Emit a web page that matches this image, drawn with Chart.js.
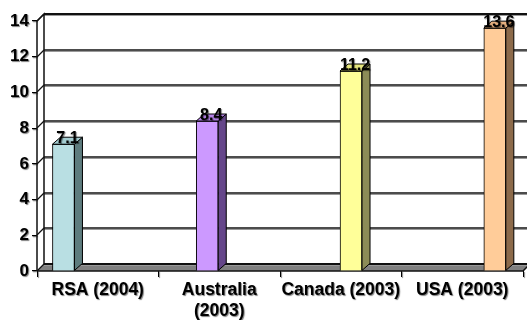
<!DOCTYPE html>
<html>
<head>
<meta charset="utf-8">
<script src="https://cdn.jsdelivr.net/npm/chart.js@4/dist/chart.umd.min.js"></script>
<style>
  html, body { margin: 0; padding: 0; background: #fff; }
</style>
</head>
<body>
<canvas id="grafico" width="527" height="320"></canvas>
<script>
// dados do gráfico
const categorias = ['RSA (2004)', ['Australia', '(2003)'], 'Canada (2003)', 'USA (2003)'];
const valores = [7.1, 8.4, 11.2, 13.6];
const ticksY = [0, 2, 4, 6, 8, 10, 12, 14];

const coresFrente = ['#b9dfe3', '#cc99ff', '#ffff99', '#ffcc99'];
const coresTopo = ['#a4cdd1', '#b683e8', '#e6e67f', '#e6b07f'];
const coresLado = ['#5e7c7e', '#65468a', '#8c8c57', '#8c6a4a'];

const FONTE = '"Liberation Sans", Arial, sans-serif';
// profundidade das paredes e das barras
const PX = 7, PY = -7;
const BX = 8, BY = -7;

const efeito3d = {
  id: 'efeito3d',
  beforeDraw(chart) {
    // sombra nos textos dos eixos
    const ctx = chart.ctx;
    ctx.save();
    ctx.shadowColor = 'rgba(0,0,0,0.5)';
    ctx.shadowOffsetX = 1;
    ctx.shadowOffsetY = 1;
    ctx.shadowBlur = 1;
  },
  beforeDatasetsDraw(chart) {
    const { ctx, chartArea: a, scales: { y } } = chart;
    ctx.restore();
    ctx.save();
    const W = chart.width + 10;

    // chão
    ctx.fillStyle = '#808080';
    ctx.beginPath();
    ctx.moveTo(a.left, a.bottom);
    ctx.lineTo(a.right, a.bottom);
    ctx.lineTo(a.right + PX, a.bottom + PY);
    ctx.lineTo(a.left + PX, a.bottom + PY);
    ctx.closePath();
    ctx.fill();

    // linhas de grade na parede de fundo
    ticksY.forEach(v => {
      const yf = Math.round(y.getPixelForValue(v));
      const yb = yf + PY;
      ctx.strokeStyle = '#999';
      ctx.lineWidth = 1;
      ctx.beginPath();
      ctx.moveTo(a.left + PX, yb + 1.5);
      ctx.lineTo(W, yb + 1.5);
      ctx.stroke();
      ctx.strokeStyle = '#111';
      ctx.lineWidth = v === 14 || v === 0 ? 2 : 1.3;
      ctx.beginPath();
      ctx.moveTo(a.left + PX, yb);
      ctx.lineTo(W, yb);
      ctx.stroke();
      // diagonal da parede lateral
      ctx.lineWidth = 1.2;
      ctx.beginPath();
      ctx.moveTo(a.left, yf);
      ctx.lineTo(a.left + PX, yb);
      ctx.stroke();
    });

    // parede lateral
    ctx.strokeStyle = '#111';
    ctx.lineWidth = 1.5;
    ctx.beginPath();
    ctx.moveTo(a.left, a.bottom);
    ctx.lineTo(a.left, a.top);
    ctx.lineTo(a.left + PX, a.top + PY);
    ctx.lineTo(a.left + PX, a.bottom + PY);
    ctx.stroke();

    // frente do chão / eixo x
    ctx.lineWidth = 1.5;
    ctx.beginPath();
    ctx.moveTo(a.left, a.bottom);
    ctx.lineTo(a.right, a.bottom);
    ctx.lineTo(a.right + PX, a.bottom + PY);
    ctx.stroke();
    ctx.restore();
  },
  afterDatasetsDraw(chart) {
    const ctx = chart.ctx;
    const meta = chart.getDatasetMeta(0);
    const faces = [];
    meta.data.forEach((el, i) => {
      const { x, y, base, width } = el.getProps(['x', 'y', 'base', 'width'], true);
      const l = x - width / 2, r = x + width / 2;
      ctx.save();
      ctx.strokeStyle = '#000';
      ctx.lineWidth = 1;
      // lateral
      ctx.fillStyle = coresLado[i];
      ctx.beginPath();
      ctx.moveTo(r, y);
      ctx.lineTo(r + BX, y + BY);
      ctx.lineTo(r + BX, base + BY);
      ctx.lineTo(r, base);
      ctx.closePath();
      ctx.fill();
      ctx.stroke();
      // topo
      const topo = new Path2D();
      topo.moveTo(l, y);
      topo.lineTo(l + BX, y + BY);
      topo.lineTo(r + BX, y + BY);
      topo.lineTo(r, y);
      topo.closePath();
      ctx.fillStyle = coresTopo[i];
      ctx.fill(topo);
      ctx.restore();
      faces.push({ topo, x, y });
    });

    // rótulos dos valores
    faces.forEach((f, i) => {
      ctx.save();
      ctx.font = 'bold 16px ' + FONTE;
      ctx.textAlign = 'center';
      ctx.textBaseline = 'alphabetic';
      ctx.shadowColor = 'rgba(0,0,0,0.5)';
      ctx.shadowOffsetX = 1;
      ctx.shadowOffsetY = 1;
      ctx.shadowBlur = 1;
      ctx.fillStyle = '#000';
      ctx.fillText(valores[i].toFixed(1), f.x + BX / 2, f.y - 1);
      ctx.restore();
      ctx.save();
      ctx.strokeStyle = '#000';
      ctx.lineWidth = 1;
      ctx.stroke(f.topo);
      ctx.restore();
    });
  }
};

new Chart(document.getElementById('grafico'), {
  type: 'bar',
  data: {
    labels: categorias,
    datasets: [{
      data: valores.map((v, i) => ({ x: i, y: v })),
      xAxisID: 'xb',
      backgroundColor: coresFrente,
      borderColor: '#000',
      borderWidth: 1,
      barThickness: 22
    }]
  },
  options: {
    responsive: false,
    devicePixelRatio: 1,
    animation: false,
    layout: { padding: { top: 21, right: 4, left: 0, bottom: 0 } },
    plugins: { legend: { display: false }, tooltip: { enabled: false } },
    scales: {
      x: {
        type: 'category',
        position: 'bottom',
        offset: true,
        border: { display: false },
        grid: { offset: true, drawOnChartArea: false, tickLength: 6, color: '#000', lineWidth: 1 },
        ticks: {
          color: '#000',
          maxRotation: 0,
          autoSkip: false,
          padding: 3,
          font: { family: FONTE, size: 17.5, weight: 'bold', lineHeight: 1.2 }
        },
        afterFit: s => { s.height = 49; }
      },
      xb: {
        type: 'linear',
        display: false,
        offset: false,
        grid: { offset: false },
        min: -0.184,
        max: 3.196
      },
      y: {
        min: 0,
        max: 14,
        border: { display: false },
        grid: { drawOnChartArea: false, tickLength: 5, color: '#000', lineWidth: 1.2 },
        ticks: {
          stepSize: 2,
          color: '#000',
          padding: 3,
          font: { family: FONTE, size: 17, weight: 'bold' }
        },
        afterFit: s => { s.width = 37; }
      }
    }
  },
  plugins: [efeito3d]
});
</script>
</body>
</html>
